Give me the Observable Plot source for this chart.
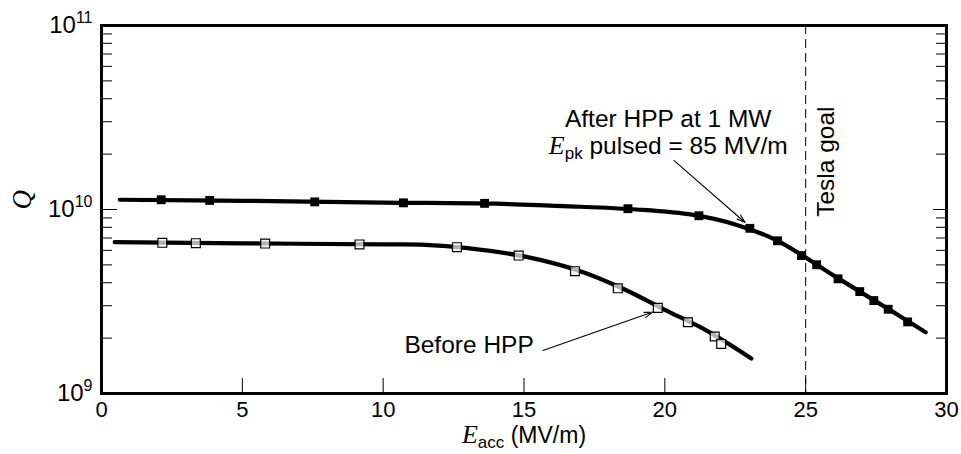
<!DOCTYPE html>
<html>
<head>
<meta charset="utf-8">
<script src="https://cdn.jsdelivr.net/npm/d3@7"></script>
<script src="https://cdn.jsdelivr.net/npm/@observablehq/plot@0.6"></script>
<style>
  html, body { margin: 0; padding: 0; background: white; }
</style>
</head>
<body>
<div id="chart"></div>
<script>
// ---- data ----
const afterE = [2.12, 3.84, 7.57, 10.72, 13.6, 18.69, 21.21, 23.02, 24.0, 24.85, 25.39, 26.15, 26.92, 27.42, 27.93, 28.62];
const afterQ = [1.13e10, 1.12e10, 1.10e10, 1.087e10, 1.08e10, 1.01e10, 9.25e9, 7.9e9, 6.76e9, 5.62e9, 5.01e9, 4.2e9, 3.58e9, 3.2e9, 2.87e9, 2.45e9];
const beforeE = [2.16, 3.35, 5.81, 9.16, 12.62, 14.81, 16.81, 18.33, 19.75, 20.82, 21.77, 22.0];
const beforeQ = [6.59e9, 6.56e9, 6.53e9, 6.46e9, 6.24e9, 5.62e9, 4.62e9, 3.73e9, 2.92e9, 2.44e9, 2.04e9, 1.86e9];
// smooth fitted curves
const afterFitE = [0.65, 5, 10, 14, 17, 19, 21, 22.5, 24, 26, 28, 29.26];
const afterFitQ = [1.13e10, 1.115e10, 1.09e10, 1.075e10, 1.035e10, 1.0e10, 9.35e9, 8.3e9, 6.76e9, 4.37e9, 2.84e9, 2.15e9];
const beforeFitE = [0.47, 5, 10, 11.5, 13, 15, 17, 18.5, 20, 21.5, 23.07];
const beforeFitQ = [6.64e9, 6.55e9, 6.46e9, 6.43e9, 6.17e9, 5.56e9, 4.62e9, 3.72e9, 2.85e9, 2.19e9, 1.55e9];
// axes
const xTicks = [0, 5, 10, 15, 20, 25, 30];
const yTicks = [1e9, 1e10, 1e11];
const yMinorTicks = [2e9, 3e9, 4e9, 5e9, 6e9, 7e9, 8e9, 9e9, 2e10, 3e10, 4e10, 5e10, 6e10, 7e10, 8e10, 9e10];
const goalE = [25];
// annotations
const noteText = ["After HPP at 1 MW", "E_pk pulsed = 85 MV/m", "Before HPP"];
const noteE = [20.12, 20.12, 13.05];
const noteQ = [3.08e10, 2.2e10, 1.82e9];
const arrowE1 = [20.33, 15.67];
const arrowQ1 = [1.845e10, 1.714e9];
const arrowE2 = [22.85, 19.57];
const arrowQ2 = [8.5e9, 2.77e9];
const goalLabel = ["Tesla goal"];
const goalLabelE = [25.74];
const goalLabelQ = [1.82e10];

const zip = (xs, ys) => xs.map((x, i) => ({x, y: ys[i]}));
const afterPts = zip(afterE, afterQ);
const beforePts = zip(beforeE, beforeQ);
const afterFit = zip(afterFitE, afterFitQ);
const beforeFit = zip(beforeFitE, beforeFitQ);
const notes = noteText.map((t, i) => ({t, x: noteE[i], y: noteQ[i]}));
const arrows = arrowE1.map((x1, i) => ({x1, y1: arrowQ1[i], x2: arrowE2[i], y2: arrowQ2[i]}));
const goalNotes = goalLabel.map((t, i) => ({t, x: goalLabelE[i], y: goalLabelQ[i]}));

const W = 961, H = 454, mL = 101, mR = 15, mT = 25, mB = 61;
const pw = W - mL - mR, ph = H - mT - mB;

const plot = Plot.plot({
  width: W, height: H,
  marginLeft: mL, marginRight: mR, marginTop: mT, marginBottom: mB,
  style: {fontFamily: "'Liberation Sans', Arial, sans-serif", fontSize: "22px", background: "white", color: "black", overflow: "visible"},
  x: {domain: [0, 30]},
  y: {type: "log", domain: [1e9, 1e11]},
  marks: [
    Plot.axisX({ticks: xTicks, tickSize: 0, tickPadding: 8, fontSize: 22, label: null, tickFormat: d => String(d)}),
    Plot.axisY({ticks: yTicks, tickSize: 0, tickPadding: 9, fontSize: 24, label: null, tickFormat: d => "10^" + Math.round(Math.log10(d))}),
    Plot.tickX(xTicks.slice(1, -1), {x: d => d, insetTop: ph - 15, stroke: "black", strokeWidth: 1}),
    Plot.tickY(yMinorTicks, {y: d => d, insetRight: pw - 11, stroke: "black", strokeWidth: 1}),
    Plot.tickY(yMinorTicks, {y: d => d, insetLeft: pw - 10, stroke: "black", strokeWidth: 1}),
    Plot.tickY([1e10], {y: d => d, insetRight: pw - 16, stroke: "black", strokeWidth: 1}),
    Plot.tickY([1e10], {y: d => d, insetLeft: pw - 13, stroke: "black", strokeWidth: 1}),
    Plot.ruleX(goalE, {x: d => d, stroke: "black", strokeWidth: 1, strokeDasharray: "9,5"}),
    Plot.line(afterFit, {x: "x", y: "y", stroke: "black", strokeWidth: 4.2, curve: "catmull-rom"}),
    Plot.line(beforeFit, {x: "x", y: "y", stroke: "black", strokeWidth: 4.2, curve: "catmull-rom"}),
    Plot.dot(afterPts, {x: "x", y: "y", symbol: "square", r: 5, fill: "black", stroke: "none"}),
    Plot.dot(beforePts, {x: "x", y: "y", symbol: "square", r: 5, fill: "white", fillOpacity: 0.7, stroke: "black", strokeWidth: 1.2}),
    Plot.arrow(arrows, {x1: "x1", y1: "y1", x2: "x2", y2: "y2", stroke: "black", strokeWidth: 1.1, headLength: 12, headAngle: 35}),
    Plot.text(notes, {x: "x", y: "y", text: "t", fontSize: 24.5, textAnchor: "middle", fill: "black"}),
    Plot.text(goalNotes, {x: "x", y: "y", text: "t", fontSize: 24.5, rotate: -90, textAnchor: "middle", fill: "black"}),
    Plot.text(["Q"], {frameAnchor: "left", dx: -79, rotate: -90, fontSize: 27, fontStyle: "italic", fontFamily: "'Liberation Serif', 'DejaVu Serif', serif", fill: "black"}),
    Plot.text(["E_acc (MV/m)"], {frameAnchor: "bottom", dy: 49, fontSize: 23, fill: "black"}),
    Plot.frame({stroke: "black", strokeWidth: 3})
  ]
});

// rich text: superscripts / subscripts / italic math letters
const NS = "http://www.w3.org/2000/svg";
function tspan(parent, str, attrs) {
  const t = document.createElementNS(NS, "tspan");
  t.textContent = str;
  for (const k in attrs) t.setAttribute(k, attrs[k]);
  parent.appendChild(t);
  return t;
}
plot.querySelectorAll("text").forEach(el => {
  const s = el.textContent;
  let m;
  if ((m = s.match(/^10\^(\d+)$/))) {
    el.textContent = "";
    tspan(el, "10", {});
    tspan(el, m[1], {"font-size": "16px", dy: "-10"});
  } else if ((m = s.match(/^E_(\w+)(.*)$/))) {
    el.textContent = "";
    tspan(el, "E", {"font-family": "'Liberation Serif', 'DejaVu Serif', serif", "font-style": "italic", "font-size": "26px"});
    tspan(el, m[1], {"font-size": "17px", dy: "5"});
    tspan(el, m[2], {dy: "-5"});
  }
});

document.getElementById("chart").appendChild(plot);
</script>
</body>
</html>
